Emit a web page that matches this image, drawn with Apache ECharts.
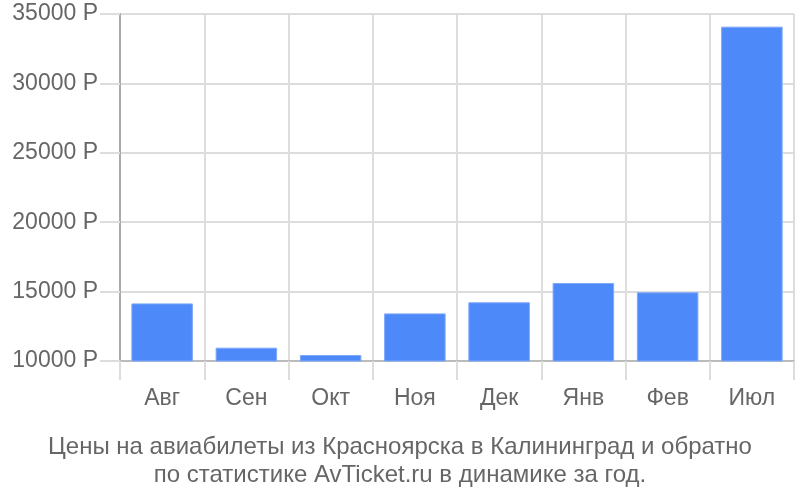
<!DOCTYPE html>
<html lang="ru">
<head>
    <meta charset="UTF-8">
    <title>Цены на авиабилеты</title>
    <script src="https://cdn.jsdelivr.net/npm/echarts@6/dist/echarts.min.js"></script>
    <style>
        html, body { margin: 0; padding: 0; background: #fff; }
        #chart { width: 800px; height: 500px; }
    </style>
</head>
<body>
<div id="chart"></div>
<script>
    // месяцы и цены (руб.)
    var months = ['Авг', 'Сен', 'Окт', 'Ноя', 'Дек', 'Янв', 'Фев', 'Июл'];
    var prices = [14150, 10960, 10430, 13430, 14230, 15620, 14950, 34090];
    var yTicks = [10000, 15000, 20000, 25000, 30000, 35000];

    var gridColor = '#dddddd';
    var textColor = '#666666';
    var font = 'Liberation Sans, Arial, sans-serif';

    var mychart = echarts.init(document.getElementById('chart'));
    var option = {
        animation: false,
        textStyle: { fontFamily: font },
        title: {
            text: 'Цены на авиабилеты из Красноярска в Калининград и обратно\nпо статистике AvTicket.ru в динамике за год.',
            left: 'center',
            top: 428,
            textStyle: {
                fontSize: 24,
                lineHeight: 28,
                fontWeight: 'normal',
                color: textColor,
                fontFamily: font
            }
        },
        grid: {
            left: 120,
            right: 6,
            top: 14,
            bottom: 139,
            containLabel: false
        },
        xAxis: {
            type: 'category',
            data: months,
            boundaryGap: true,
            axisLine: { show: true, lineStyle: { color: '#bbbbbb', width: 2 } },
            axisTick: {
                show: true,
                length: 19,
                interval: 0,
                alignWithLabel: false,
                lineStyle: { color: gridColor, width: 2 }
            },
            axisLabel: {
                margin: 26,
                fontSize: 23,
                color: textColor,
                interval: 0
            },
            splitLine: { show: true, interval: 0, lineStyle: { color: gridColor, width: 2 } }
        },
        yAxis: {
            type: 'value',
            min: yTicks[0],
            max: yTicks[yTicks.length - 1],
            interval: 5000,
            axisLine: { show: true, lineStyle: { color: '#aaaaaa', width: 2 } },
            axisTick: { show: true, length: 20, lineStyle: { color: gridColor, width: 2 } },
            axisLabel: {
                formatter: function (v) { return v + ' Р'; },
                fontSize: 23,
                color: textColor,
                margin: 22
            },
            splitLine: { show: true, lineStyle: { color: gridColor, width: 2 } }
        },
        series: [{
            type: 'bar',
            data: prices,
            barCategoryGap: '27%',
            itemStyle: {
                color: '#4d89f9',
                borderColor: '#7ea8fa',
                borderWidth: 1
            }
        }]
    };
    mychart.setOption(option);
</script>
</body>
</html>
